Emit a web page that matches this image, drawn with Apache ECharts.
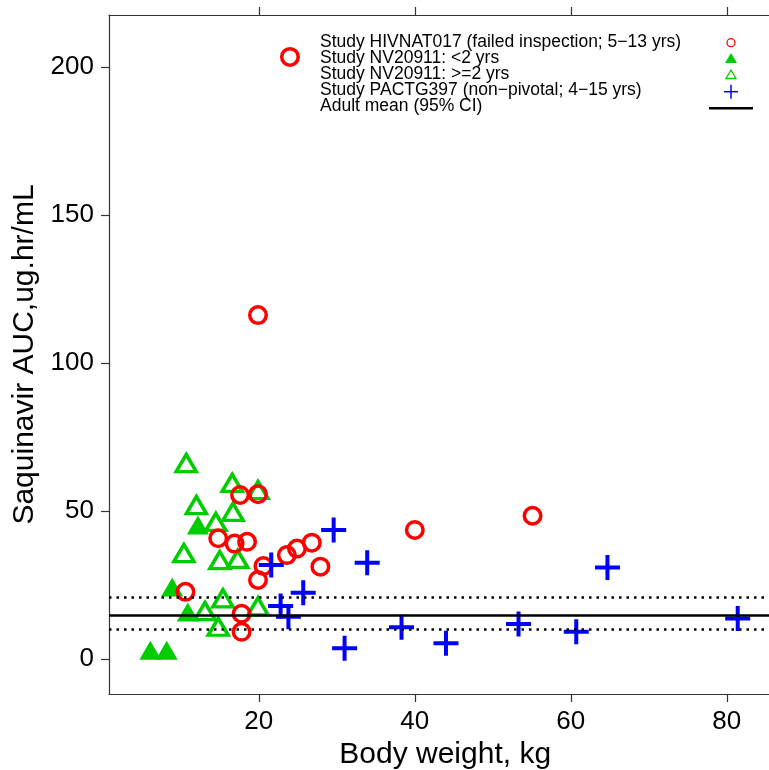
<!DOCTYPE html>
<html><head><meta charset="utf-8">
<script src="https://cdn.jsdelivr.net/npm/echarts@6/dist/echarts.min.js"></script>
<style>html,body{margin:0;padding:0;background:#fff}#c{width:769px;height:770px}</style>
</head><body><div id="c"></div>
<script>
// Study HIVNAT017 (red open circles)
const hivnatX = [24.0, 19.9, 17.6, 19.9, 14.8, 16.9, 18.5, 20.6, 19.9, 23.6, 24.9, 26.8, 27.9, 17.8, 17.8, 10.6, 40.0, 55.1];
const hivnatY = [203.4, 116.2, 55.4, 55.7, 40.8, 39.0, 39.6, 31.4, 26.7, 35.1, 37.3, 39.3, 31.2, 15.3, 9.2, 22.7, 43.6, 48.4];
// Study NV20911 <2 yrs (green filled triangles)
const lt2X = [8.9, 6.1, 8.2, 10.9, 12.2];
const lt2Y = [24.3, 3.0, 3.0, 15.9, 45.3];
// Study NV20911 >=2 yrs (green open triangles)
const ge2X = [10.7, 16.6, 19.9, 12.0, 16.7, 14.5, 10.4, 15.0, 17.3, 15.4, 13.1, 14.8, 19.9];
const ge2Y = [66.2, 59.5, 57.1, 52.0, 49.7, 46.3, 35.8, 33.4, 33.8, 20.5, 16.2, 10.9, 17.8];
// Study PACTG397 (blue plus)
const pactX = [29.6, 21.6, 33.9, 25.7, 22.8, 23.8, 31.0, 38.3, 44.0, 53.3, 60.7, 64.7, 81.4];
const pactY = [43.6, 31.8, 32.5, 22.4, 17.9, 14.3, 3.6, 10.7, 5.3, 11.8, 9.2, 30.9, 13.7];
// Adult mean and 95% CI
const adultMean = 14.9;
const adultCI = [10.1, 20.8];

const xTicks = [20, 40, 60, 80];
const yTicks = [0, 50, 100, 150, 200];
const legendNames = [
  'Study HIVNAT017 (failed inspection; 5\u221213 yrs)',
  'Study NV20911: <2 yrs',
  'Study NV20911: >=2 yrs',
  'Study PACTG397 (non\u2212pivotal; 4\u221215 yrs)',
  'Adult mean (95% CI)'
];

function pairs(xs, ys) { return xs.map((x, i) => [x, ys[i]]); }

const FONT = '"Liberation Sans", Arial, sans-serif';
const PLUS = 'path://M10.5,0H14.5V10.5H25V14.5H14.5V25H10.5V14.5H0V10.5H10.5Z';
const AX = { color: '#333', width: 1.2 };

const chart = echarts.init(document.getElementById('c'), null, { renderer: 'canvas' });
chart.setOption({
  animation: false,
  backgroundColor: '#fff',
  grid: { left: 109, top: 15, width: 672.4, height: 679, containLabel: false, outerBoundsMode: 'none' },
  xAxis: [{
    type: 'value', min: 0.8, max: 87, position: 'bottom',
    axisLine: { show: true, onZero: false, lineStyle: AX },
    axisTick: { show: true, length: 8, customValues: xTicks, lineStyle: AX },
    axisLabel: { customValues: xTicks, fontSize: 26, color: '#000', margin: 15, fontFamily: FONT },
    splitLine: { show: false },
    name: 'Body weight, kg', nameLocation: 'middle', nameGap: 39,
    nameTextStyle: { fontSize: 30, color: '#000', fontFamily: FONT }
  }, {
    type: 'value', min: 0.8, max: 87, position: 'top',
    axisLine: { show: true, onZero: false, lineStyle: AX },
    axisTick: { show: true, length: 8, customValues: xTicks, lineStyle: AX },
    axisLabel: { show: false },
    splitLine: { show: false }
  }],
  yAxis: {
    type: 'value', min: -11.82, max: 217.57,
    axisLine: { show: true, onZero: false, lineStyle: AX },
    axisTick: { show: true, length: 8, customValues: yTicks, lineStyle: AX },
    axisLabel: { customValues: yTicks, fontSize: 26, color: '#000', margin: 15, fontFamily: FONT },
    splitLine: { show: false },
    name: 'Saquinavir AUC,ug.hr/mL', nameLocation: 'middle', nameGap: 63, nameRotate: 90,
    nameTextStyle: { fontSize: 30, color: '#000', fontFamily: FONT }
  },
  legend: {
    data: legendNames, orient: 'vertical', left: 314, top: 33.4, padding: 0,
    itemWidth: 0, itemHeight: 0, itemGap: -2, selectedMode: false,
    textStyle: { fontSize: 17.5, lineHeight: 16, color: '#000', fontFamily: FONT }
  },
  graphic: [
    { type: 'circle', shape: { cx: 731, cy: 42.7, r: 4 }, style: { fill: 'none', stroke: '#ff0000', lineWidth: 1.3 } },
    { type: 'polygon', shape: { points: [[725, 63], [737, 63], [731, 53]] }, style: { fill: '#00cd00' } },
    { type: 'polygon', shape: { points: [[726, 78.5], [736, 78.5], [731, 70]] }, style: { fill: 'none', stroke: '#00cd00', lineWidth: 1.3 } },
    { type: 'line', shape: { x1: 724, y1: 91.7, x2: 738, y2: 91.7 }, style: { stroke: '#0000ff', lineWidth: 1.5 } },
    { type: 'line', shape: { x1: 731, y1: 84.7, x2: 731, y2: 98.7 }, style: { stroke: '#0000ff', lineWidth: 1.5 } },
    { type: 'line', shape: { x1: 709, y1: 108.3, x2: 753, y2: 108.3 }, style: { stroke: '#000', lineWidth: 2.5 } }
  ],
  series: [
    {
      name: legendNames[1], type: 'scatter', data: pairs(lt2X, lt2Y),
      symbol: 'triangle', symbolSize: [22, 19],
      itemStyle: { color: '#00cd00', opacity: 1 }, emphasis: { disabled: true }
    },
    {
      name: legendNames[2], type: 'scatter', data: pairs(ge2X, ge2Y),
      symbol: 'triangle', symbolSize: [20, 17],
      itemStyle: { color: 'rgba(0,0,0,0)', borderColor: '#00cd00', borderWidth: 3.5, opacity: 1 },
      emphasis: { disabled: true }
    },
    {
      name: legendNames[0], type: 'scatter', data: pairs(hivnatX, hivnatY),
      symbol: 'circle', symbolSize: 16.5,
      itemStyle: { color: 'rgba(0,0,0,0)', borderColor: '#ff0000', borderWidth: 3.5, opacity: 1 },
      emphasis: { disabled: true }
    },
    {
      name: legendNames[3], type: 'scatter', data: pairs(pactX, pactY),
      symbol: PLUS, symbolSize: 25,
      itemStyle: { color: '#0000ff', opacity: 1 }, emphasis: { disabled: true }
    },
    {
      name: legendNames[4], type: 'line', data: [], showSymbol: false,
      lineStyle: { color: '#000' }, itemStyle: { color: '#000' },
      markLine: {
        silent: true, symbol: ['none', 'none'], label: { show: false },
        data: [
          { yAxis: adultMean, lineStyle: { type: 'solid', width: 2.5, color: '#000' } },
          { yAxis: adultCI[0], lineStyle: { type: [2.5, 5], width: 2.5, color: '#000', cap: 'butt' } },
          { yAxis: adultCI[1], lineStyle: { type: [2.5, 5], width: 2.5, color: '#000', cap: 'butt' } }
        ]
      }
    }
  ]
});
</script></body></html>
